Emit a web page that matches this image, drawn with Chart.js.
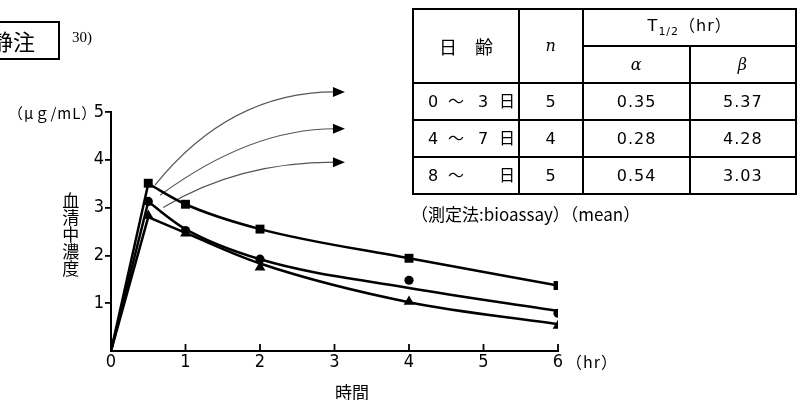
<!DOCTYPE html>
<html>
<head>
<meta charset="utf-8">
<script src="https://cdn.jsdelivr.net/npm/chart.js@4.4.0/dist/chart.umd.min.js"></script>
<style>
  body { margin: 0; background: #fff; }
  #wrap { position: relative; width: 797px; height: 400px; overflow: hidden; color: #000;
          font-family: "Noto Sans CJK JP", sans-serif; }
  #chart { position: absolute; left: 0; top: 0; }
  .lbl { position: absolute; white-space: nowrap; line-height: 1; }
  #badge { position: absolute; left: -20px; top: 21px; width: 76px; height: 35px;
           border: 2.5px solid #000; font-size: 22px; line-height: 35px; text-align: right; }
  #badge span { margin-right: 23px; }
  #ref { left: 72px; top: 30px; font-family: "Liberation Serif", serif; font-size: 15px; }
  #unit { left: 8px; top: 105px; font-size: 15px; letter-spacing: 1px; }
  #ytitle { left: 61px; top: 192px; font-size: 17px; writing-mode: vertical-rl; line-height: 1.08; }
  #xtitle { left: 335px; top: 383px; font-size: 17px; }
  #hr { left: 566px; top: 353px; font-size: 16px; letter-spacing: 1px; }
  #note { left: 411px; top: 205px; font-size: 17px; }
  table { position: absolute; left: 412px; top: 8px; border-collapse: collapse; table-layout: fixed;
          font-family: "DejaVu Sans", "Noto Sans CJK JP", sans-serif; font-size: 16px; letter-spacing: 1px; }
  td { border: 2px solid #000; text-align: center; height: 35px; padding: 0; white-space: nowrap; line-height: 1; }
  td.age { text-align: left; padding-left: 14px; letter-spacing: 0; }
  td.age span { display: inline-block; }
  td.head { font-family: "Noto Sans CJK JP", sans-serif; font-size: 18px; letter-spacing: 0; }
  i { font-family: "DejaVu Serif", serif; }
</style>
</head>
<body>
<div id="wrap">
  <canvas id="chart" width="797" height="400"></canvas>
  <div id="badge"><span>静注</span></div>
  <div class="lbl" id="ref">30)</div>
  <div class="lbl" id="unit">（μｇ/mL）</div>
  <div class="lbl" id="ytitle">血清中濃度</div>
  <div class="lbl" id="xtitle">時間</div>
  <div class="lbl" id="hr">（hr）</div>
  <div class="lbl" id="note">（測定法:bioassay）（mean）</div>
  <table id="tbl"></table>
</div>
<script>
// sampling times (hr) and measured means (μg/mL)
const hours = [0.5, 1, 2, 4, 6];
const squareMeans = [3.51, 3.07, 2.55, 1.94, 1.37];
const circleMeans = [3.13, 2.52, 1.92, 1.48, 0.79];
const triangleMeans = [2.83, 2.46, 1.75, 1.03, 0.53];

// fitted curves at the same times
const squareFit = [3.50, 3.07, 2.55, 1.94, 1.37];
const circleFit = [3.12, 2.55, 1.92, 1.32, 0.84];
const triangleFit = [2.80, 2.47, 1.83, 1.02, 0.56];

const xTicks = [0, 1, 2, 3, 4, 5, 6];
const yTicks = [0, 1, 2, 3, 4, 5];

// curved arrows (start, bend, end) in data units
const arrowStarts = [[0.59, 3.47], [0.66, 3.26], [0.70, 3.00]];
const arrowBends = [[1.60, 5.42], [1.87, 4.65], [1.70, 3.95]];
const arrowEnds = [[3.14, 5.42], [3.14, 4.65], [3.14, 3.95]];

// table
const ageGroups = [['0', '～', '3', '日'], ['4', '～', '7', '日'], ['8', '～', '', '日']];
const nValues = [5, 4, 5];
const alphaHalf = ['0.35', '0.28', '0.54'];
const betaHalf = ['5.37', '4.28', '3.03'];

const tbl = document.getElementById('tbl');
let html = '<colgroup><col style="width:106px"><col style="width:65px"><col style="width:107px"><col style="width:107px"></colgroup>';
html += '<tr><td rowspan="2" class="head">日　齢</td><td rowspan="2"><i>n</i></td>' +
        '<td colspan="2">T<sub style="font-size:11px">1/2</sub>（hr）</td></tr>';
html += '<tr><td><i>α</i></td><td><i>β</i></td></tr>';
const ageWidths = [20, 30, 21, 18];
ageGroups.forEach((g, i) => {
  const age = g.map((s, j) => '<span style="width:' + ageWidths[j] + 'px">' + s + '</span>').join('');
  html += '<tr><td class="age">' + age + '</td><td>' + nValues[i] + '</td><td>' + alphaHalf[i] +
          '</td><td>' + betaHalf[i] + '</td></tr>';
});
tbl.innerHTML = html;

const toXY = (ys) => hours.map((h, i) => ({ x: h, y: ys[i] }));

const series = [
  { means: squareMeans, fit: squareFit, style: 'rect', r: 6.3 },
  { means: circleMeans, fit: circleFit, style: 'circle', r: 4.6 },
  { means: triangleMeans, fit: triangleFit, style: 'triangle', r: 6.2 }
];

const datasets = [];
series.forEach(s => {
  datasets.push({
    data: [{ x: 0, y: 0 }, { x: hours[0], y: s.fit[0] }],
    borderColor: '#000', borderWidth: 2.5, pointRadius: 0, tension: 0
  });
  datasets.push({
    data: toXY(s.fit),
    borderColor: '#000', borderWidth: 2.5, pointRadius: 0, cubicInterpolationMode: 'monotone'
  });
  datasets.push({
    data: toXY(s.means),
    showLine: false, pointStyle: s.style, pointRadius: s.r,
    backgroundColor: '#000', borderColor: '#000', borderWidth: 0
  });
});

const tickFont = { family: '"Liberation Sans Narrow", "DejaVu Sans Condensed", sans-serif', size: 18 };

const extras = {
  id: 'extras',
  beforeDatasetsDraw(chart) {
    const { ctx, scales: { x, y } } = chart;
    ctx.save();
    arrowStarts.forEach((s, i) => {
      const x0 = x.getPixelForValue(s[0]), y0 = y.getPixelForValue(s[1]);
      const cx = x.getPixelForValue(arrowBends[i][0]), cy = y.getPixelForValue(arrowBends[i][1]);
      const x1 = x.getPixelForValue(arrowEnds[i][0]), y1 = y.getPixelForValue(arrowEnds[i][1]);
      ctx.strokeStyle = '#555';
      ctx.lineWidth = 1.2;
      ctx.beginPath();
      ctx.moveTo(x0, y0);
      ctx.quadraticCurveTo(cx, cy, x1 - 10, y1);
      ctx.stroke();
      ctx.fillStyle = '#000';
      ctx.beginPath();
      ctx.moveTo(x1, y1);
      ctx.lineTo(x1 - 12, y1 - 5);
      ctx.lineTo(x1 - 12, y1 + 5);
      ctx.closePath();
      ctx.fill();
    });
    ctx.restore();
  },
  afterDraw(chart) {
    const { ctx, scales: { x, y } } = chart;
    ctx.save();
    ctx.strokeStyle = '#000';
    ctx.lineWidth = 1.8;
    const base = y.getPixelForValue(0);
    xTicks.forEach(v => {
      if (v === 0) return;
      const px = x.getPixelForValue(v);
      ctx.beginPath();
      ctx.moveTo(px, base);
      ctx.lineTo(px, base - 7);
      ctx.stroke();
    });
    ctx.restore();
  }
};

new Chart(document.getElementById('chart'), {
  type: 'line',
  data: { datasets },
  plugins: [extras],
  options: {
    responsive: false,
    animation: false,
    devicePixelRatio: 1,
    layout: { padding: { top: 112, right: 239, left: 0, bottom: 0 } },
    plugins: { legend: { display: false }, tooltip: { enabled: false } },
    scales: {
      x: {
        type: 'linear', min: 0, max: 6,
        afterBuildTicks: (s) => { s.ticks = xTicks.map(v => ({ value: v })); },
        afterFit: (s) => { s.height = 49; },
        grid: { drawOnChartArea: false, drawTicks: false },
        border: { color: '#000', width: 2 },
        ticks: { color: '#000', font: tickFont, padding: 1 }
      },
      y: {
        min: 0, max: 5,
        afterBuildTicks: (s) => { s.ticks = yTicks.map(v => ({ value: v })); },
        afterFit: (s) => { s.width = 111; },
        grid: {
          drawOnChartArea: false, tickLength: 6, lineWidth: 1.8,
          tickColor: (c) => c.tick && c.tick.value === 0 ? 'rgba(0,0,0,0)' : '#000'
        },
        border: { color: '#000', width: 2 },
        ticks: { color: '#000', font: tickFont, padding: 1, callback: (v) => v === 0 ? '' : v }
      }
    }
  }
});
</script>
</body>
</html>
